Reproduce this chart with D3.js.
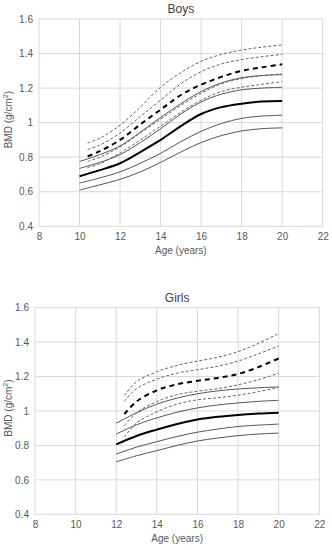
<!DOCTYPE html>
<html>
<head>
<meta charset="utf-8">
<script src="https://cdn.jsdelivr.net/npm/d3@7"></script>
<style>
  body { margin: 0; background: #fff; }
  text { font-family: "Liberation Sans", Arial, sans-serif; }
</style>
</head>
<body>
<svg id="chart" width="332" height="550"></svg>
<script>
// ---- data ----
var xTicks = [8, 10, 12, 14, 16, 18, 20, 22];
var yTicks = [0.4, 0.6, 0.8, 1, 1.2, 1.4, 1.6];

// boys, solid reference curves (-2SD .. +2SD)
var boysAges = [10, 11, 12, 13, 14, 15, 16, 17, 18, 19, 20];
var boysSolidM2  = [0.61, 0.64, 0.672, 0.715, 0.77, 0.83, 0.885, 0.925, 0.952, 0.965, 0.97];
var boysSolidM1  = [0.65, 0.68, 0.715, 0.765, 0.822, 0.89, 0.95, 0.995, 1.025, 1.038, 1.043];
var boysSolidMed = [0.69, 0.725, 0.765, 0.83, 0.9, 0.98, 1.05, 1.09, 1.11, 1.122, 1.125];
var boysSolidP1  = [0.735, 0.77, 0.815, 0.885, 0.965, 1.05, 1.12, 1.165, 1.19, 1.2, 1.205];
var boysSolidP2  = [0.775, 0.815, 0.865, 0.945, 1.03, 1.11, 1.18, 1.23, 1.26, 1.273, 1.278];
// boys, dashed curves
var boysDashAges = [10.4, 11, 12, 13, 14, 15, 16, 17, 18, 19, 20];
var boysDashM2  = [0.74, 0.762, 0.825, 0.9, 0.98, 1.06, 1.13, 1.18, 1.205, 1.222, 1.237];
var boysDashM1  = [0.775, 0.80, 0.86, 0.94, 1.02, 1.1, 1.17, 1.225, 1.255, 1.272, 1.282];
var boysDashMed = [0.805, 0.835, 0.9, 0.99, 1.075, 1.16, 1.22, 1.265, 1.3, 1.32, 1.338];
var boysDashP1  = [0.845, 0.87, 0.94, 1.035, 1.13, 1.225, 1.295, 1.34, 1.365, 1.382, 1.395];
var boysDashP2  = [0.882, 0.91, 0.985, 1.09, 1.205, 1.29, 1.355, 1.395, 1.42, 1.437, 1.45];

// girls, solid reference curves
var girlsAges = [12, 13, 14, 15, 16, 17, 18, 19, 20];
var girlsSolidM2  = [0.705, 0.74, 0.77, 0.80, 0.826, 0.843, 0.857, 0.866, 0.872];
var girlsSolidM1  = [0.75, 0.79, 0.822, 0.852, 0.877, 0.895, 0.91, 0.918, 0.924];
var girlsSolidMed = [0.806, 0.855, 0.892, 0.925, 0.95, 0.966, 0.977, 0.985, 0.99];
var girlsSolidP1  = [0.866, 0.92, 0.96, 0.993, 1.018, 1.035, 1.047, 1.056, 1.062];
var girlsSolidP2  = [0.929, 0.99, 1.04, 1.075, 1.1, 1.117, 1.128, 1.135, 1.14];
// girls, dashed curves
var girlsDashAges = [12.4, 13, 14, 15, 16, 17, 18, 19, 20];
var girlsDashM2  = [0.848, 0.93, 0.995, 1.04, 1.065, 1.077, 1.092, 1.112, 1.138];
var girlsDashM1  = [0.915, 0.99, 1.055, 1.095, 1.115, 1.13, 1.152, 1.182, 1.219];
var girlsDashMed = [0.982, 1.055, 1.12, 1.155, 1.175, 1.192, 1.215, 1.255, 1.305];
var girlsDashP1  = [1.056, 1.13, 1.185, 1.22, 1.24, 1.26, 1.29, 1.332, 1.378];
var girlsDashP2  = [1.09, 1.17, 1.228, 1.265, 1.29, 1.312, 1.345, 1.393, 1.45];

// line styles
var styles = {
  solid:     { stroke: "#555", width: 1, dash: null },
  solidBold: { stroke: "#000", width: 2, dash: null },
  dot:       { stroke: "#666", width: 1, dash: "3,2" },
  dashBold:  { stroke: "#000", width: 2, dash: "5,4" }
};

var svg = d3.select("#chart");

function drawPanel(opt) {
  var g = svg.append("g");
  var x = d3.scaleLinear().domain([8, 22]).range([opt.left, opt.right]);
  var y = d3.scaleLinear().domain([0.4, 1.6]).range([opt.bottom, opt.top]);

  // grid
  g.selectAll(".vgrid").data(xTicks).enter().append("line")
    .attr("x1", function(d) { return x(d); })
    .attr("x2", function(d) { return x(d); })
    .attr("y1", opt.top).attr("y2", opt.bottom)
    .attr("stroke", "#d9d9d9").attr("stroke-width", 1);
  g.selectAll(".hgrid").data(yTicks).enter().append("line")
    .attr("x1", opt.left).attr("x2", opt.right)
    .attr("y1", function(d) { return y(d); })
    .attr("y2", function(d) { return y(d); })
    .attr("stroke", "#d9d9d9").attr("stroke-width", 1);

  // axes (labels only, gridlines do the rest)
  var xAxis = g.append("g")
    .attr("transform", "translate(0," + opt.bottom + ")")
    .call(d3.axisBottom(x).tickValues(xTicks).tickSize(0).tickPadding(7).tickFormat(d3.format("d")));
  var yAxis = g.append("g")
    .attr("transform", "translate(" + opt.left + ",0)")
    .call(d3.axisLeft(y).tickValues(yTicks).tickSize(0).tickPadding(6).tickFormat(function(d) { return d3.format("")(+d.toFixed(1)); }));
  [xAxis, yAxis].forEach(function(a) {
    a.select(".domain").remove();
    a.selectAll("text").attr("fill", "#595959").style("font-size", "10px")
      .style("font-family", '"Liberation Sans", Arial, sans-serif');
  });

  // title + axis titles
  g.append("text")
    .attr("x", (opt.left + opt.right) / 2).attr("y", opt.top - 6)
    .attr("text-anchor", "middle").attr("fill", "#404040")
    .style("font-size", "12px").text(opt.title);
  g.append("text")
    .attr("x", (opt.left + opt.right) / 2).attr("y", opt.bottom + 28)
    .attr("text-anchor", "middle").attr("fill", "#595959")
    .style("font-size", "10px").text("Age (years)");
  var yt = g.append("text")
    .attr("transform", "translate(12," + ((opt.top + opt.bottom) / 2 - 3) + ") rotate(-90)")
    .attr("text-anchor", "middle").attr("fill", "#595959")
    .style("font-size", "10px");
  yt.append("tspan").text("BMD (g/cm");
  yt.append("tspan").attr("dy", -4).style("font-size", "7px").text("2");
  yt.append("tspan").attr("dy", 4).text(")");

  // curves
  var line = d3.line()
    .x(function(d) { return x(d[0]); })
    .y(function(d) { return y(d[1]); })
    .curve(d3.curveCatmullRom.alpha(0.5));

  opt.series.forEach(function(s) {
    var st = styles[s.style];
    var pts = s.ages.map(function(a, i) { return [a, s.values[i]]; });
    g.append("path")
      .datum(pts)
      .attr("d", line)
      .attr("fill", "none")
      .attr("stroke", st.stroke)
      .attr("stroke-width", st.width)
      .attr("stroke-dasharray", st.dash);
  });
}

drawPanel({
  title: "Boys", left: 39, right: 322.7, top: 19, bottom: 226.3,
  series: [
    { ages: boysAges, values: boysSolidM2, style: "solid" },
    { ages: boysAges, values: boysSolidM1, style: "solid" },
    { ages: boysAges, values: boysSolidP1, style: "solid" },
    { ages: boysAges, values: boysSolidP2, style: "solid" },
    { ages: boysDashAges, values: boysDashM2, style: "dot" },
    { ages: boysDashAges, values: boysDashM1, style: "dot" },
    { ages: boysDashAges, values: boysDashP1, style: "dot" },
    { ages: boysDashAges, values: boysDashP2, style: "dot" },
    { ages: boysDashAges, values: boysDashMed, style: "dashBold" },
    { ages: boysAges, values: boysSolidMed, style: "solidBold" }
  ]
});

drawPanel({
  title: "Girls", left: 35, right: 319.3, top: 307.7, bottom: 514.3,
  series: [
    { ages: girlsAges, values: girlsSolidM2, style: "solid" },
    { ages: girlsAges, values: girlsSolidM1, style: "solid" },
    { ages: girlsAges, values: girlsSolidP1, style: "solid" },
    { ages: girlsAges, values: girlsSolidP2, style: "solid" },
    { ages: girlsDashAges, values: girlsDashM2, style: "dot" },
    { ages: girlsDashAges, values: girlsDashM1, style: "dot" },
    { ages: girlsDashAges, values: girlsDashP1, style: "dot" },
    { ages: girlsDashAges, values: girlsDashP2, style: "dot" },
    { ages: girlsDashAges, values: girlsDashMed, style: "dashBold" },
    { ages: girlsAges, values: girlsSolidMed, style: "solidBold" }
  ]
});
</script>
</body>
</html>
